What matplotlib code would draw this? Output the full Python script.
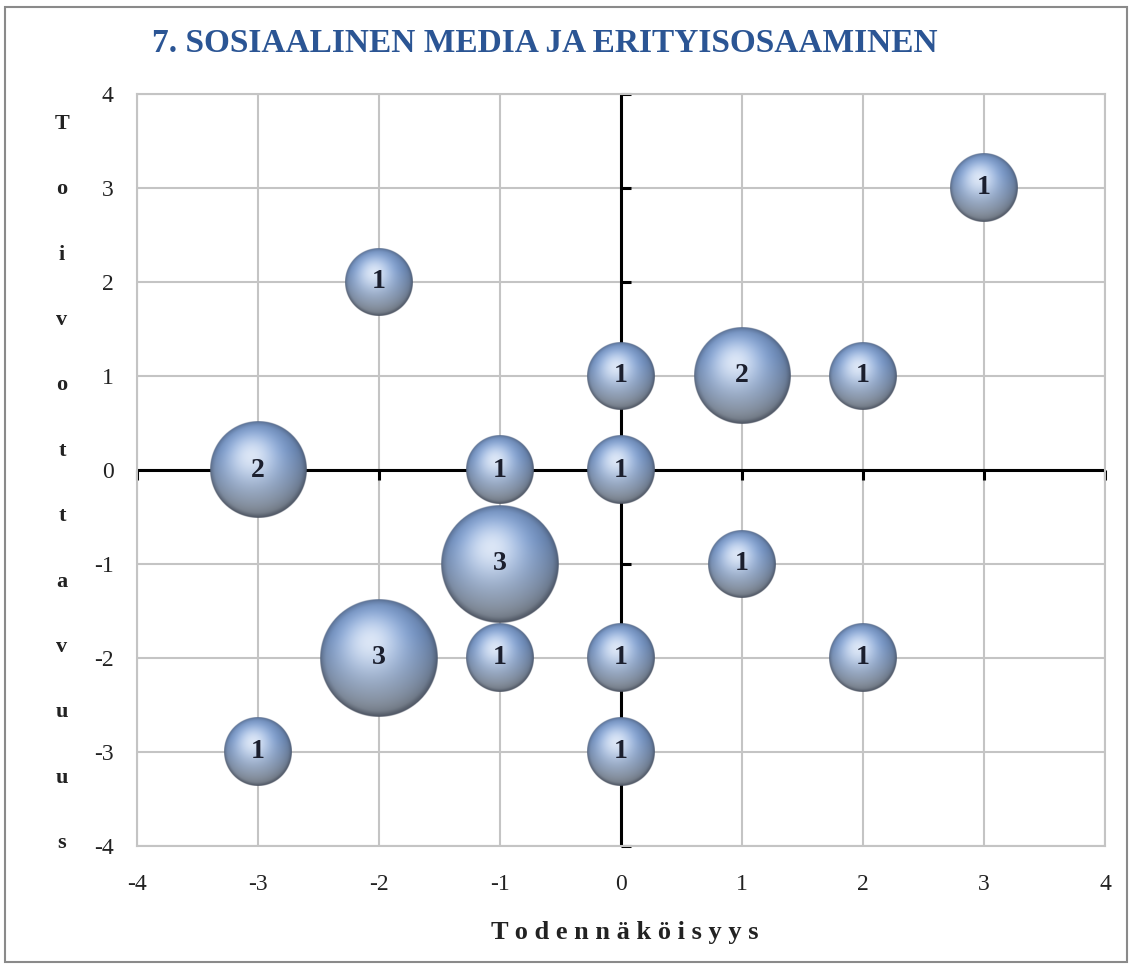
import numpy as np
import matplotlib.pyplot as plt
from matplotlib.patches import Rectangle

# Bubble data: position (Todennakoisyys, Toivottavuus) and number of answers
x_vals = [3, -2, 0, 1, 2, -3, -1, 0, -1, 1, -2, -1, 0, 2, -3, 0]
y_vals = [3, 2, 1, 1, 1, 0, 0, 0, -1, -1, -2, -2, -2, -2, -3, -3]
counts = [1, 1, 1, 2, 1, 2, 1, 1, 3, 1, 3, 1, 1, 1, 1, 1]

ticks = [-4, -3, -2, -1, 0, 1, 2, 3, 4]
title = "7. SOSIAALINEN MEDIA JA ERITYISOSAAMINEN"
xlabel = "Todennäköisyys"
ylabel = "Toivottavuus"

SERIF = ["Liberation Serif", "DejaVu Serif"]


def sphere_image(n=240):
    """Shaded blue sphere as an RGBA array (row 0 = top)."""
    c = (np.arange(n) + 0.5) / n * 2 - 1
    xx, yy = np.meshgrid(c, c)
    rr = np.sqrt(xx ** 2 + yy ** 2)
    z = np.sqrt(np.clip(1 - rr ** 2, 0, 1))
    light = np.array([-0.15, -0.3, 1.0])
    light = light / np.linalg.norm(light)
    d = np.clip(xx * light[0] + yy * light[1] + z * light[2], 0, 1)[..., None]
    blue = np.array([0.50, 0.63, 0.83])
    gray = np.array([0.66, 0.71, 0.78])
    w = np.clip((yy + 0.4) / 1.2, 0, 1)[..., None]
    base = blue * (1 - w) + gray * w
    rgb = base * (0.62 + 0.42 * d)
    rgb = rgb + (np.array([0.94, 0.96, 0.99]) - rgb) * (d ** 8) * 0.8
    # darker rim, strongest along the bottom
    edge = (1 - np.clip(z / 0.45, 0, 1) ** 0.7)[..., None]
    edge = edge * (0.45 + 0.55 * np.clip((yy + 0.2) / 1.0, 0, 1))[..., None]
    rgb = rgb * (1 - edge) + np.array([0.20, 0.23, 0.30]) * edge
    alpha = np.clip((1 - rr) * n / 2, 0, 1)
    return np.dstack([np.clip(rgb, 0, 1), alpha])


fig = plt.figure(figsize=(11.32, 9.67), dpi=100)
ax = fig.add_axes([137 / 1132, 1 - 846 / 967, 968 / 1132, 752 / 967])
ax.set_xlim(-4, 4)
ax.set_ylim(-4, 4)

ax.set_xticks(ticks)
ax.set_yticks(ticks)
ax.set_xticklabels([str(t) for t in ticks], fontfamily=SERIF, fontsize=17, color="#222222")
ax.set_yticklabels([str(t) for t in ticks], fontfamily=SERIF, fontsize=17, color="#222222")
ax.tick_params(length=0)
ax.tick_params(axis="y", pad=17)
ax.tick_params(axis="x", pad=20)
ax.grid(True, color="#c4c4c4", linewidth=1.5)
ax.set_axisbelow(True)
for s in ax.spines.values():
    s.set_color("#c4c4c4")
    s.set_linewidth(1.5)

# zero axes with small tick marks
ax.axhline(0, color="black", linewidth=2.2, zorder=2)
ax.axvline(0, color="black", linewidth=2.2, zorder=2)
right_tick = [(0, 0), (1, 0)]
down_tick = [(0, 0), (0, -1)]
ax.plot([0] * len(ticks), ticks, linestyle="none", marker=right_tick, markersize=14,
        markeredgewidth=2.2, color="black", zorder=2, clip_on=False)
ax.plot(ticks, [0] * len(ticks), linestyle="none", marker=down_tick, markersize=14,
        markeredgewidth=2.2, color="black", zorder=2, clip_on=False)

# bubbles
px_x = 968 / 8
px_y = 752 / 8
img = sphere_image()
for x, y, n in sorted(zip(x_vals, y_vals, counts), key=lambda v: -v[2]):
    r = 34 * np.sqrt(n)
    ax.imshow(img, extent=[x - r / px_x, x + r / px_x, y - r / px_y, y + r / px_y],
              aspect="auto", zorder=3, interpolation="bilinear")
    ax.text(x, y, str(n), ha="center", va="center", fontsize=20, fontweight="bold",
            fontfamily=SERIF, color="#1b1f2e", zorder=4)
ax.set_xlim(-4, 4)
ax.set_ylim(-4, 4)

fig.text(545 / 1132, 1 - 44 / 967, title, ha="center", va="center", fontsize=24,
         fontweight="bold", fontfamily=SERIF, color="#2b5594")

# letter-spaced axis titles
fig.text(625 / 1132, 1 - 932 / 967, " ".join(xlabel), ha="center", va="center",
         fontsize=19, fontweight="bold", fontfamily=SERIF, color="#222222")
for i, ch in enumerate(ylabel):
    ypix = 124 + i * (843 - 124) / (len(ylabel) - 1)
    fig.text(62 / 1132, 1 - ypix / 967, ch, ha="center", va="center", fontsize=16,
             fontweight="bold", fontfamily=SERIF, color="#222222")

fig.patches.append(Rectangle((5 / 1132, 5 / 967), 1122 / 1132, 955 / 967,
                             transform=fig.transFigure, fill=False,
                             edgecolor="#8a8a8a", linewidth=1.5))

fig.savefig("out.png", dpi=100)
